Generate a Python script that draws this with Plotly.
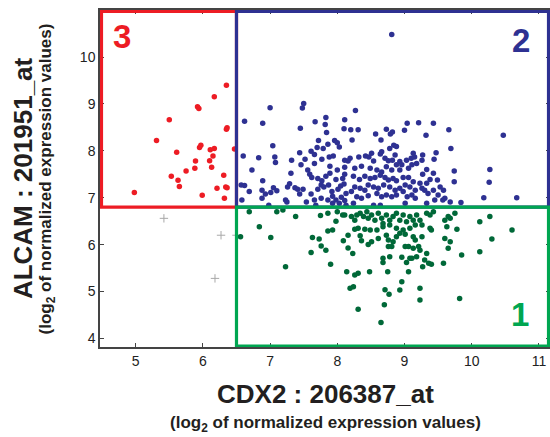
import plotly.graph_objects as go

# ---------------- data (log2 expression values) ----------------
red_pts = [
    (4.98, 7.11), (5.31, 8.22), (5.50, 8.66), (5.53, 7.46), (5.61, 7.97), (5.63, 7.37),
    (5.65, 7.24), (5.75, 7.57), (5.88, 7.63), (5.89, 7.78), (5.92, 8.94), (5.94, 8.90),
    (5.95, 8.07), (5.97, 8.12), (5.99, 7.05), (6.10, 7.79), (6.11, 8.02), (6.13, 7.65),
    (6.15, 7.89), (6.17, 8.05), (6.17, 9.15), (6.21, 7.20), (6.31, 7.48), (6.32, 6.99),
    (6.34, 7.23), (6.36, 7.21), (6.35, 8.46), (6.36, 8.49), (6.35, 9.40), (6.47, 8.04),
]

gray_pts = [(5.42, 6.56), (6.27, 6.20), (6.18, 5.28), (6.50, 6.20)]

blue_pts = [
    (7.00, 8.92), (7.48, 8.91), (7.50, 9.01), (6.62, 8.63), (6.89, 8.59), (7.67, 8.62),
    (7.45, 8.48), (7.83, 8.71), (7.82, 8.56), (7.84, 8.39), (8.11, 8.66), (8.10, 8.47),
    (7.04, 8.11), (6.60, 7.89), (6.83, 7.85), (7.07, 7.87), (7.08, 7.75), (6.73, 7.59),
    (7.44, 7.96), (7.32, 7.80), (7.52, 7.82), (7.46, 7.70), (7.72, 8.22), (7.79, 8.05),
    (7.70, 8.07), (7.86, 8.14), (7.96, 8.22), (8.00, 8.17), (8.03, 8.08), (7.61, 7.99),
    (7.66, 7.92), (7.77, 7.82), (7.66, 7.73), (7.88, 7.87), (7.94, 7.89), (8.11, 7.80),
    (8.16, 7.78), (8.11, 7.65), (8.11, 7.50), (7.31, 7.52), (7.56, 7.59), (7.59, 7.50),
    (7.62, 7.43), (7.71, 7.41), (7.77, 7.36), (7.89, 7.67), (7.89, 7.52), (7.83, 7.46),
    (8.00, 7.59), (7.98, 7.39), (8.08, 7.41), (6.89, 7.36), (6.57, 7.27), (6.62, 7.26),
    (6.69, 7.13), (6.88, 7.16), (6.93, 7.08), (7.01, 7.11), (7.05, 7.21), (7.10, 7.15),
    (7.26, 7.23), (7.29, 7.30), (7.37, 7.21), (7.41, 7.18), (7.44, 7.08), (7.49, 7.18),
    (7.61, 7.08), (7.71, 7.18), (7.76, 7.27), (7.80, 7.23), (7.87, 7.27), (7.92, 7.13),
    (7.93, 7.03), (8.01, 7.18), (8.05, 7.25), (8.10, 7.29), (8.13, 7.09), (8.06, 7.01),
    (8.11, 6.94), (6.58, 6.95), (6.88, 6.99), (6.98, 6.84), (7.23, 6.95), (7.25, 6.91),
    (7.54, 6.91), (7.66, 6.95), (7.76, 6.99), (7.86, 6.95), (7.93, 6.88), (7.98, 6.95),
    (8.03, 6.88), (8.13, 6.84), (7.68, 6.84),
    (8.27, 8.86), (8.20, 8.45), (8.31, 8.45), (8.22, 8.23), (8.57, 8.36), (8.65, 8.23),
    (8.73, 8.46), (8.79, 8.36), (8.82, 8.40), (9.00, 8.44), (9.04, 8.59), (9.21, 8.60),
    (9.43, 8.59), (9.32, 8.33), (9.66, 8.45), (9.69, 8.05), (9.47, 7.96), (9.44, 7.82),
    (8.84, 8.12), (8.88, 8.09), (8.78, 8.05), (8.66, 7.98), (8.64, 7.93), (8.51, 7.95),
    (8.47, 7.87), (8.42, 7.89), (8.32, 7.87), (8.19, 7.84), (8.54, 7.78), (8.71, 7.84),
    (8.76, 7.79), (8.86, 7.91), (8.82, 7.80), (8.93, 7.77), (9.03, 7.80), (9.10, 7.84),
    (9.13, 7.95), (9.15, 7.87), (9.27, 7.91), (9.26, 7.80), (9.18, 7.73), (9.11, 7.70),
    (9.06, 7.63), (8.96, 7.70), (8.88, 7.70), (8.93, 7.59), (8.81, 7.59), (8.73, 7.66),
    (8.66, 7.55), (8.59, 7.59), (8.49, 7.63), (8.36, 7.67), (8.26, 7.63), (8.24, 7.46),
    (8.33, 7.39), (8.41, 7.46), (8.49, 7.41), (8.56, 7.43), (8.64, 7.48), (8.71, 7.43),
    (8.76, 7.38), (8.83, 7.41), (8.88, 7.36), (8.98, 7.43), (9.06, 7.43), (9.13, 7.34),
    (9.23, 7.31), (9.27, 7.50), (9.33, 7.60), (9.43, 7.52), (9.49, 7.38), (9.38, 7.39),
    (9.33, 7.31), (9.26, 7.20), (9.16, 7.16), (9.08, 7.23), (9.01, 7.27), (8.93, 7.20),
    (8.86, 7.16), (8.78, 7.23), (8.69, 7.27), (8.61, 7.20), (8.54, 7.23), (8.46, 7.27),
    (8.41, 7.16), (8.34, 7.20), (8.26, 7.23), (8.21, 7.13), (8.29, 7.02), (8.36, 6.99),
    (8.46, 7.04), (8.59, 7.09), (8.66, 7.02), (8.73, 7.06), (8.81, 7.02), (8.88, 7.06),
    (8.98, 7.13), (9.04, 7.02), (9.11, 7.06), (9.16, 6.99), (9.30, 7.16), (9.35, 7.09),
    (9.43, 7.16), (9.53, 7.23), (9.58, 7.16), (9.50, 7.06), (9.57, 6.95), (9.68, 6.91),
    (9.74, 7.57), (9.74, 7.34), (9.84, 6.90), (8.24, 6.88), (8.54, 6.84), (8.64, 6.84),
    (9.01, 6.88), (9.33, 6.88), (9.45, 6.95), (9.60, 6.99),
    (10.18, 7.00), (10.67, 7.00), (10.26, 7.33), (10.27, 7.60), (10.47, 8.33), (8.81, 10.48),
]

green_pts = [
    (6.69, 6.70), (7.10, 6.70), (7.19, 6.74), (7.38, 6.60), (6.84, 6.38), (6.56, 6.17),
    (7.01, 6.15), (7.23, 5.53), (7.61, 5.83), (7.63, 6.15), (7.73, 6.12), (7.76, 5.97),
    (7.83, 5.88), (7.90, 5.58), (7.75, 6.62), (7.86, 6.67), (7.98, 6.50), (7.86, 6.29),
    (7.93, 6.31), (8.08, 6.63), (8.11, 6.63), (8.00, 6.70), (8.09, 6.08), (8.16, 6.20),
    (8.16, 5.93), (8.14, 5.42),
    (8.21, 6.60), (8.26, 6.52), (8.29, 6.63), (8.34, 6.67), (8.39, 6.60), (8.44, 6.70),
    (8.46, 6.56), (8.51, 6.63), (8.56, 6.52), (8.61, 6.67), (8.66, 6.56), (8.68, 6.45),
    (8.73, 6.63), (8.78, 6.52), (8.83, 6.60), (8.88, 6.67), (8.93, 6.52), (8.98, 6.63),
    (9.03, 6.49), (9.08, 6.60), (9.13, 6.52), (9.18, 6.63), (9.23, 6.52), (9.26, 6.42),
    (9.33, 6.67), (9.38, 6.63), (9.43, 6.70), (9.16, 6.42), (9.08, 6.35), (8.98, 6.31),
    (8.88, 6.35), (8.78, 6.42), (8.68, 6.38), (8.59, 6.31), (8.49, 6.31), (8.41, 6.33),
    (8.31, 6.35), (8.26, 6.33), (8.34, 6.19), (8.36, 6.08), (8.46, 6.00), (8.51, 6.06),
    (8.61, 6.13), (8.73, 6.20), (8.76, 6.10), (8.83, 6.06), (8.88, 6.17), (8.93, 6.24),
    (9.01, 6.22), (9.13, 6.17), (9.16, 6.10), (9.26, 6.17), (9.38, 6.35), (9.40, 6.31),
    (9.63, 6.38), (9.78, 6.33), (9.68, 6.56), (9.60, 6.52), (9.65, 6.60), (9.75, 6.67),
    (8.23, 5.81), (8.76, 5.96), (8.81, 5.96), (9.01, 5.96), (9.06, 5.96), (9.13, 5.92),
    (9.21, 5.96), (9.23, 5.88), (9.33, 5.81), (9.30, 5.67), (9.36, 5.60), (9.27, 5.53),
    (9.40, 5.58), (9.58, 5.60), (9.85, 5.78), (9.68, 6.06), (9.60, 6.13), (9.65, 5.92),
    (8.96, 5.73), (9.08, 5.71), (9.11, 5.71), (8.78, 5.74), (8.68, 5.71), (8.68, 5.62),
    (9.03, 5.62), (9.18, 5.74), (8.31, 5.39), (8.26, 5.35), (8.48, 5.42), (8.75, 5.42),
    (9.06, 5.42), (8.96, 5.21), (8.24, 5.10), (8.19, 5.07), (8.71, 5.04), (8.77, 4.94),
    (8.93, 5.03), (9.23, 5.07), (9.23, 4.82), (8.70, 4.72), (8.31, 4.62), (8.65, 4.34),
    (9.82, 4.85),
    (10.12, 5.85), (10.30, 6.12), (10.60, 6.31), (10.12, 6.49), (10.27, 6.60),
]

x_ticks = [5, 6, 7, 8, 9, 10, 11]
y_ticks = [4, 5, 6, 7, 8, 9, 10]

# thresholds defining the three groups
x_cut = 6.5
y_cut = 6.8

RED = "#ed1c24"
NAVY = "#2e3192"
DKGREEN = "#006838"
GREEN = "#00a651"
TXT = "#231f20"
FONT = "Liberation Sans, Arial, sans-serif"

fig = go.Figure()


def add_pts(pts, color, symbol="circle", size=5.5, line=None):
    fig.add_trace(go.Scatter(
        x=[p[0] for p in pts], y=[p[1] for p in pts], mode="markers",
        marker=dict(color=color, size=size, symbol=symbol,
                    line=line if line else dict(width=0)),
        showlegend=False, hoverinfo="x+y"))


add_pts(gray_pts, "#a8a8a8", symbol="cross-thin-open", size=6,
        line=dict(width=1, color="#a8a8a8"))
add_pts(red_pts, RED)
add_pts(green_pts, DKGREEN)
add_pts(blue_pts, NAVY)

# axis ranges / box edges
x_lo, x_hi = 4.469, 11.165
y_lo, y_hi = 3.817, 11.002
bx_lo, bx_hi = 4.491, 11.143
by_lo, by_hi = 3.838, 10.97

boxes = [
    (bx_lo, x_cut, y_cut, by_hi, RED),
    (x_cut, bx_hi, y_cut, by_hi, NAVY),
    (x_cut, bx_hi, by_lo, y_cut, GREEN),
]
for x0, x1, y0, y1, c in boxes:
    fig.add_shape(type="rect", x0=x0, x1=x1, y0=y0, y1=y1, xref="x", yref="y",
                  line=dict(color=c, width=3.2), fillcolor="rgba(0,0,0,0)", layer="above")

# group numbers
fig.add_annotation(x=4.80, y=10.43, text="<b>3</b>", showarrow=False,
                   font=dict(family=FONT, size=33, color=RED))
fig.add_annotation(x=10.73, y=10.36, text="<b>2</b>", showarrow=False,
                   font=dict(family=FONT, size=33, color=NAVY))
fig.add_annotation(x=10.72, y=4.52, text="<b>1</b>", showarrow=False,
                   font=dict(family=FONT, size=33, color=GREEN))

# axis titles
fig.add_annotation(x=0.5, y=-0.14, xref="paper", yref="paper", yanchor="middle",
                   text="<b>CDX2 : 206387_at</b>", showarrow=False,
                   font=dict(family=FONT, size=26, color=TXT))
fig.add_annotation(x=0.5, y=-0.228, xref="paper", yref="paper", yanchor="middle",
                   text="<b>(log<sub>2</sub> of normalized expression values)</b>", showarrow=False,
                   font=dict(family=FONT, size=17, color=TXT))
fig.add_annotation(x=-0.172, y=0.5, xref="paper", yref="paper", xanchor="center",
                   yanchor="middle", textangle=-90,
                   text="<b>ALCAM : 201951_at</b>", showarrow=False,
                   font=dict(family=FONT, size=26, color=TXT))
fig.add_annotation(x=-0.118, y=0.5, xref="paper", yref="paper", xanchor="center",
                   yanchor="middle", textangle=-90,
                   text="<b>(log<sub>2</sub> of normalized expression values)</b>", showarrow=False,
                   font=dict(family=FONT, size=17, color=TXT))

axis_common = dict(showgrid=False, zeroline=False, showline=True, linecolor="#444444",
                   linewidth=1.5, mirror="ticks", ticks="inside", ticklen=4,
                   tickwidth=1, tickcolor="#444444", automargin=False,
                   tickfont=dict(family=FONT, size=14, color="#222222"))

fig.update_xaxes(range=[x_lo, x_hi], tickvals=x_ticks, ticktext=[str(t) for t in x_ticks],
                 **axis_common)
fig.update_yaxes(range=[y_lo, y_hi], tickvals=y_ticks, ticktext=[str(t) for t in y_ticks],
                 **axis_common)

fig.update_layout(width=550, height=437, margin=dict(l=100, r=0, t=10, b=90, pad=0),
                  plot_bgcolor="white", paper_bgcolor="white")

fig.write_html("out.html", config={"displayModeBar": False},
               post_script="document.body.style.margin='0';document.body.style.overflow='hidden';")
